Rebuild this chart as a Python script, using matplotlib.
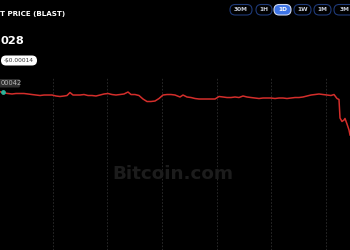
import matplotlib.pyplot as plt
from matplotlib.patches import FancyBboxPatch

# Price series (time in px-like units across the 1D window)
t = [0, 4, 8, 12, 16, 20, 24, 28, 32, 36, 40, 44, 48, 52, 56, 60, 64, 67, 70, 73,
     76, 80, 84, 88, 92, 96, 100, 104, 108, 112, 116, 120, 124, 128, 131, 135, 139, 143, 147, 151,
     155, 159, 163, 167, 171, 175, 180, 183, 187, 191, 195, 199, 203, 207, 211, 215, 219, 223, 227, 231,
     235, 239, 243, 247, 251, 255, 259, 263, 267, 271, 275, 279, 283, 287, 291, 295, 299, 303, 307, 311,
     315, 319, 323, 327, 331, 334, 337, 339, 340, 342, 344, 345, 347, 349, 350]
price = [0.0004200, 0.0004158, 0.0004142, 0.0004126, 0.0004142, 0.0004142, 0.0004142, 0.0004126, 0.0004109, 0.0004093,
         0.0004077, 0.0004093, 0.0004093, 0.0004093, 0.0004061, 0.0004045, 0.0004061, 0.0004077, 0.0004174, 0.0004093,
         0.0004093, 0.0004093, 0.0004109, 0.0004077, 0.0004077, 0.0004061, 0.0004093, 0.0004126, 0.0004142, 0.0004109,
         0.0004093, 0.0004109, 0.0004126, 0.0004190, 0.0004109, 0.0004109, 0.0004077, 0.0003964, 0.0003883, 0.0003883,
         0.0003899, 0.0003980, 0.0004093, 0.0004109, 0.0004109, 0.0004093, 0.0004029, 0.0004093, 0.0004029, 0.0004012,
         0.0003980, 0.0003964, 0.0003964, 0.0003964, 0.0003964, 0.0003964, 0.0004045, 0.0004029, 0.0004012, 0.0004012,
         0.0004029, 0.0004012, 0.0004061, 0.0004029, 0.0004012, 0.0003996, 0.0003980, 0.0003996, 0.0003996, 0.0003996,
         0.0003980, 0.0003996, 0.0003996, 0.0003980, 0.0003996, 0.0004012, 0.0004012, 0.0004029, 0.0004061, 0.0004093,
         0.0004109, 0.0004126, 0.0004109, 0.0004093, 0.0004077, 0.0004109, 0.0003980, 0.0003948, 0.0003350, 0.0003237,
         0.0003285, 0.0003334, 0.0003156, 0.0002962, 0.0002800]

grid_t = [53, 107, 162, 217, 271, 326]
ranges = ['30M', '1H', '1D', '1W', '1M', '3M']
range_x = [(230, 252), (256, 272), (274, 291), (294, 311), (314, 331), (334, 356)]
active = '1D'

# texts as they show in the cropped view
title = 'T PRICE (BLAST)'
cur_price = '028'
change = '-$0.00014'
open_label = '00042'

bg = '#000000'
line_color = '#d42e2b'

fig = plt.figure(figsize=(3.5, 2.5), dpi=100, facecolor=bg)

# chart axes
ax = fig.add_axes([0, 0, 1, 1])
ax.set_facecolor(bg)
ax.set_xlim(0, 350)
ax.set_ylim(-0.0000918, 0.0007165)
ax.axis('off')
for g in grid_t:
    ax.axvline(g, ymin=0, ymax=0.692, color='#2e2e2e', lw=0.6, ls=(0, (2, 2)), zorder=1)
ax.plot(t, price, color=line_color, lw=1.1, zorder=3)
ax.scatter([3], [0.0004203], s=6, color='#2bb39a', zorder=4)

# overlay in pixel coordinates
ov = fig.add_axes([0, 0, 1, 1], zorder=5)
ov.set_xlim(0, 350)
ov.set_ylim(250, 0)
ov.patch.set_alpha(0)
ov.axis('off')

ov.text(173, 174, 'Bitcoin.com', color='#1c1c1c', fontsize=13.2, fontweight='bold',
        ha='center', va='center', zorder=0)

ov.text(0.5, 14, title, color='white', fontsize=5.1, fontweight='bold',
        ha='left', va='center')
ov.text(0.5, 40.5, cur_price, color='white', fontsize=8.2, fontweight='bold',
        ha='left', va='center')

pill = FancyBboxPatch((1, 55.5), 36, 10, boxstyle='round,pad=0,rounding_size=5',
                      fc='white', ec='none')
ov.add_patch(pill)
ov.text(19, 60.7, change, color='#333333', fontsize=4.2, ha='center', va='center')

tag = FancyBboxPatch((-6, 79), 26, 8.5, boxstyle='round,pad=0,rounding_size=1.5',
                     fc='#2f2f2f', ec='none')
ov.add_patch(tag)
ov.text(0.5, 83.3, open_label, color='#bbbbbb', fontsize=4.8, ha='left', va='center')

for lab, (x0, x1) in zip(ranges, range_x):
    on = lab == active
    b = FancyBboxPatch((x0, 4.5), x1 - x0, 10.5, boxstyle='round,pad=0,rounding_size=5.2',
                       fc='#3e74e6' if on else bg, ec='#cfd8ee' if on else '#1f3a78', lw=0.8)
    ov.add_patch(b)
    ov.text((x0 + x1) / 2, 9.9, lab, color='white' if on else '#c9cfdc', fontsize=4.2,
            fontweight='bold', ha='center', va='center')

fig.savefig('out.png', dpi=100, facecolor=bg)
